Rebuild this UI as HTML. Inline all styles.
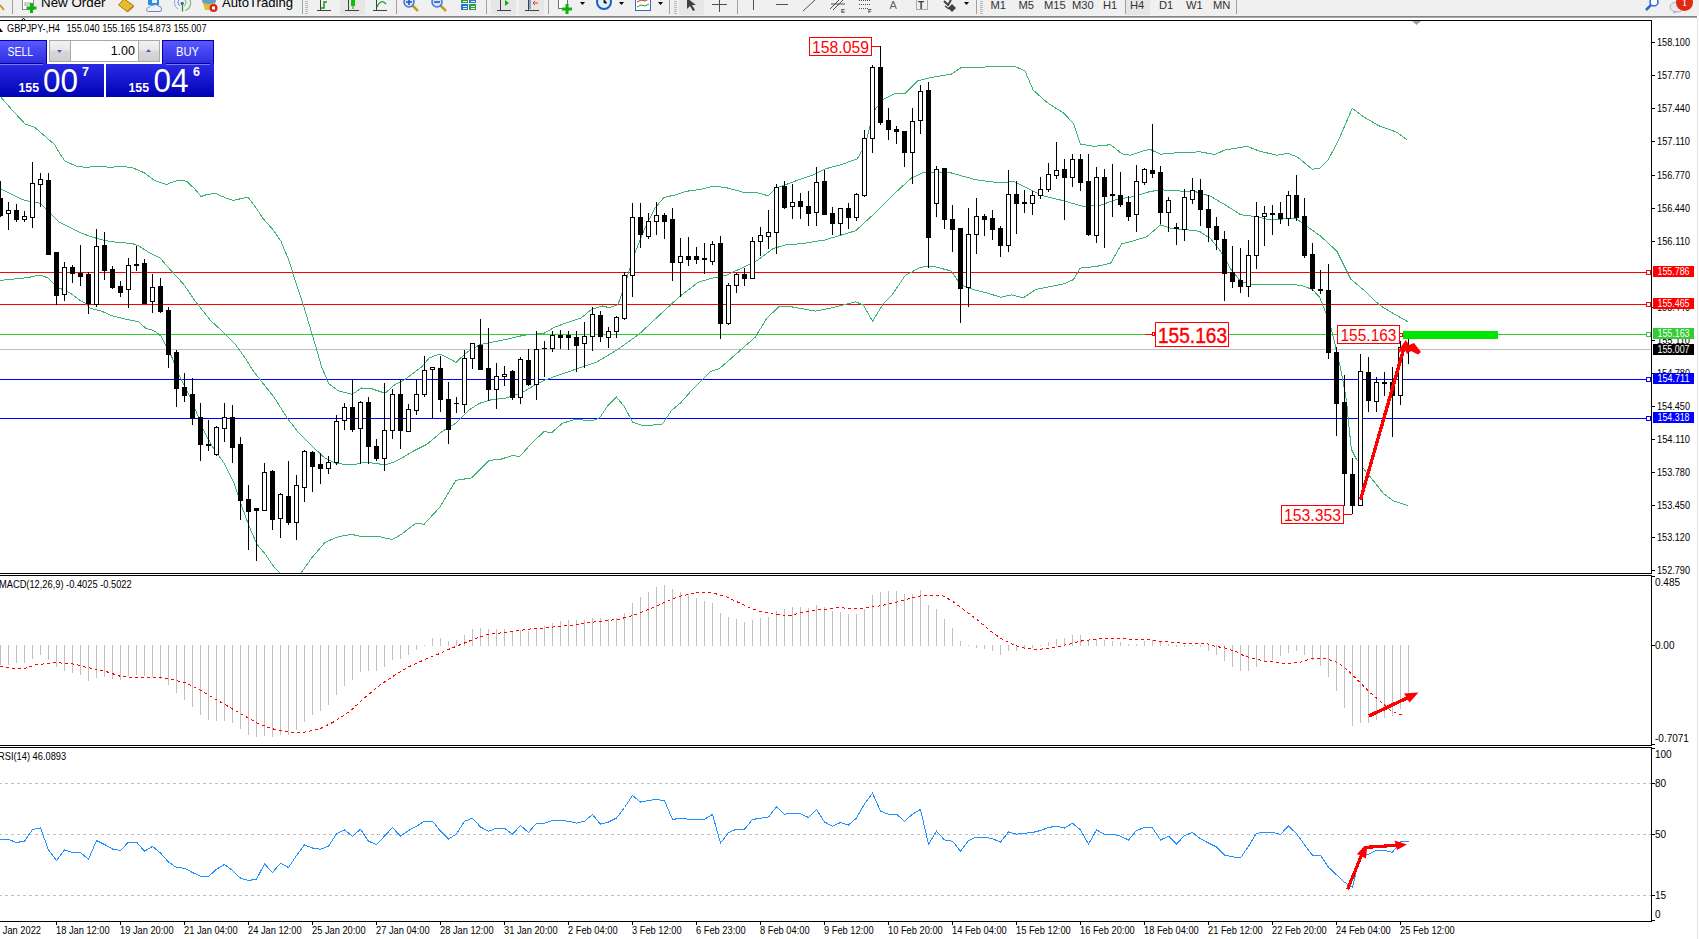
<!DOCTYPE html>
<html><head><meta charset="utf-8"><style>html,body{margin:0;padding:0;background:#fff;overflow:hidden}svg{display:block}</style></head>
<body><svg width="1699" height="939" viewBox="0 0 1699 939"><rect x="0" y="0" width="1699" height="939" fill="#ffffff"/><defs><clipPath id="cm"><rect x="0" y="21" width="1651" height="552"/></clipPath><clipPath id="cmacd"><rect x="0" y="576" width="1651" height="169"/></clipPath><clipPath id="crsi"><rect x="0" y="748" width="1651" height="173"/></clipPath></defs><g clip-path="url(#cm)"><g shape-rendering="crispEdges"><rect x="0" y="272" width="1646" height="1" fill="#ff0000"/><rect x="1646.5" y="270.5" width="4" height="4" fill="#fff" stroke="#ff0000" stroke-width="1"/><rect x="0" y="304" width="1646" height="1" fill="#ff0000"/><rect x="1646.5" y="302.5" width="4" height="4" fill="#fff" stroke="#ff0000" stroke-width="1"/><rect x="0" y="334" width="1646" height="1" fill="#32cd32"/><rect x="1646.5" y="332.5" width="4" height="4" fill="#fff" stroke="#32cd32" stroke-width="1"/><rect x="0" y="379" width="1646" height="1" fill="#0000ff"/><rect x="1646.5" y="377.5" width="4" height="4" fill="#fff" stroke="#0000ff" stroke-width="1"/><rect x="0" y="418" width="1646" height="1" fill="#0000ff"/><rect x="1646.5" y="416.5" width="4" height="4" fill="#fff" stroke="#0000ff" stroke-width="1"/><rect x="0" y="349" width="1651" height="1" fill="#c0c0c0"/></g><polyline points="0.0,96.0 2.7,99.3 13.3,111.3 25.3,124.1 34.6,127.3 43.9,135.3 54.6,144.6 59.9,153.9 65.2,161.4 77.2,166.4 85.2,167.2 98.5,166.7 111.9,167.2 122.5,166.4 133.2,168.0 143.8,172.6 154.5,180.5 166.4,184.5 177.1,180.5 186.4,181.1 194.4,188.5 201.1,196.5 207.0,194.5 215.2,193.4 223.4,196.9 232.8,200.4 241.0,198.7 248.0,197.1 256.2,208.1 263.2,218.7 272.6,229.2 280.8,240.9 289.0,260.8 296.0,283.1 303.1,304.2 310.1,327.6 317.1,351.0 321.8,367.4 328.8,383.8 338.2,390.8 352.3,394.3 361.6,388.0 371.0,388.5 385.1,393.2 394.4,385.0 403.8,380.3 410.7,375.2 421.3,367.2 429.3,357.9 439.9,353.9 447.9,357.9 455.9,362.4 466.6,352.6 479.9,344.6 493.2,341.9 506.5,339.3 517.2,336.6 527.8,334.7 543.8,333.4 554.5,327.3 565.1,323.3 581.1,318.0 591.7,309.2 602.4,306.0 608.9,307.6 617.9,304.6 623.9,288.2 632.8,258.4 644.7,228.6 655.2,207.7 664.1,197.3 674.5,195.2 686.5,191.3 701.4,189.2 713.3,186.2 725.2,187.4 743.1,192.2 755.0,192.2 768.5,195.8 775.9,188.3 787.8,183.9 799.8,179.4 812.4,175.2 824.7,169.0 840.2,165.0 857.2,158.8 864.9,145.8 874.2,110.3 883.4,99.4 895.8,93.3 905.1,93.3 917.4,80.9 929.8,77.8 951.4,74.1 960.7,67.9 985.4,67.0 1000.0,66.6 1015.2,66.6 1024.9,70.8 1033.2,90.1 1047.1,102.6 1063.7,113.1 1073.3,123.3 1080.3,144.1 1094.1,146.3 1110.7,144.7 1121.8,153.8 1130.1,155.2 1149.5,149.1 1160.5,154.3 1179.9,152.4 1200.0,151.9 1215.3,154.5 1224.3,150.1 1235.8,148.3 1247.3,146.3 1258.8,150.9 1276.7,155.2 1288.2,153.4 1297.2,157.0 1312.5,169.3 1320.2,168.0 1327.9,160.3 1338.1,141.2 1352.2,108.4 1363.7,116.9 1379.0,125.8 1396.9,132.2 1407.2,139.9" fill="none" stroke="#3cb371" stroke-width="1" shape-rendering="crispEdges" /><polyline points="0.0,188.5 10.7,193.9 21.3,199.2 29.3,201.3 40.0,203.2 49.3,212.5 58.6,221.8 69.2,227.2 79.9,232.5 90.5,236.5 101.2,239.7 111.9,241.8 122.5,242.6 133.2,243.9 138.5,245.8 149.1,252.5 159.8,257.8 170.4,269.8 183.8,284.4 194.3,300.0 200.7,308.0 210.5,320.5 223.4,332.3 235.1,344.0 246.8,360.4 252.5,370.0 260.4,380.1 273.8,396.8 287.2,418.1 298.4,432.6 311.8,446.0 325.2,458.3 336.4,463.5 352.1,465.0 365.5,462.1 378.9,463.9 385.6,465.0 394.5,461.7 400.0,459.1 413.3,451.1 426.6,444.5 442.6,431.1 455.9,423.2 469.2,409.8 479.9,403.2 490.5,400.0 506.5,397.9 522.5,392.5 533.2,385.9 543.8,380.5 554.5,376.6 565.1,373.1 581.1,367.2 597.1,361.9 617.9,349.3 638.8,334.4 659.6,315.0 680.5,295.7 698.4,282.2 713.3,277.8 725.2,275.7 740.1,268.8 758.0,259.9 772.9,248.8 784.9,245.0 802.7,243.5 824.7,240.0 855.6,230.8 874.2,213.8 892.7,195.2 911.2,178.2 923.6,172.1 948.3,172.1 976.1,179.8 1000.0,182.9 1013.8,181.5 1027.7,188.4 1041.5,195.3 1063.7,200.8 1083.0,206.4 1099.6,205.5 1116.2,199.5 1132.9,196.7 1149.5,191.7 1160.5,189.8 1182.7,191.2 1193.7,191.2 1210.2,196.1 1225.6,205.1 1240.9,214.8 1256.3,216.6 1266.5,219.2 1281.8,219.2 1289.5,217.9 1297.2,219.2 1307.4,226.8 1320.2,235.8 1336.8,251.1 1350.9,279.3 1363.7,290.0 1373.5,299.8 1380.8,305.9 1393.0,313.3 1407.8,321.8" fill="none" stroke="#3cb371" stroke-width="1" shape-rendering="crispEdges" /><polyline points="0.0,280.4 13.3,279.1 26.6,277.8 39.9,275.1 47.9,277.8 57.3,287.1 69.2,292.4 79.9,300.4 85.2,303.0 90.5,308.4 101.2,311.0 111.9,315.8 127.8,319.6 138.5,321.7 146.4,328.8 151.2,329.6 156.0,332.0 160.8,336.0 165.6,344.8 172.0,357.5 178.4,373.5 184.8,386.3 191.2,399.1 197.5,415.1 203.9,431.1 213.4,448.3 224.6,463.9 233.5,481.8 240.2,501.9 249.2,526.5 257.0,544.4 264.8,553.4 273.8,566.8 280.5,573.5 290.0,582.0 300.6,573.5 311.8,557.8 325.2,542.2 338.6,536.6 352.1,534.4 361.0,536.6 378.9,536.6 392.3,539.5 401.3,534.4 416.0,523.0 424.0,524.4 440.0,507.0 455.9,480.4 471.9,477.8 489.2,460.4 501.2,459.1 511.9,455.6 519.8,456.4 530.5,444.5 543.8,431.7 551.8,432.5 562.5,423.2 575.8,419.2 591.7,421.0 599.7,417.8 607.5,406.0 616.4,397.0 623.9,406.0 632.8,422.4 644.7,426.0 662.6,423.9 671.6,410.4 680.5,403.0 692.4,389.6 710.3,371.7 719.3,368.7 731.2,358.3 743.1,347.8 755.0,337.4 767.0,318.0 778.9,306.7 790.8,306.7 815.5,311.1 830.9,308.0 855.6,301.9 863.3,304.9 872.6,321.3 883.4,303.4 892.7,294.1 905.1,275.6 920.5,267.2 932.9,266.3 951.4,271.0 960.7,284.9 973.1,289.5 985.4,292.6 1000.9,297.2 1011.1,294.9 1023.5,297.7 1036.0,289.4 1049.8,286.6 1063.7,283.9 1073.3,279.7 1080.3,268.1 1096.9,266.4 1110.7,263.1 1121.8,243.7 1132.9,241.0 1146.7,236.8 1160.5,224.9 1171.6,228.5 1188.2,229.9 1199.3,231.3 1210.2,238.3 1220.5,251.1 1230.7,269.0 1240.9,281.8 1251.2,284.4 1271.6,284.4 1292.1,284.4 1302.3,285.7 1312.5,289.5 1319.6,297.3 1324.5,309.6 1329.4,321.8 1336.7,351.2 1341.6,373.3 1346.5,400.2 1349.0,427.2 1351.4,449.2 1356.3,459.0 1363.7,468.8 1373.5,481.0 1383.3,493.3 1393.1,500.6 1407.8,505.5" fill="none" stroke="#3cb371" stroke-width="1" shape-rendering="crispEdges" /><g shape-rendering="crispEdges"><rect x="0" y="181" width="1" height="36" fill="#000"/><rect x="-2" y="198" width="5" height="18" fill="#000"/><rect x="8" y="202" width="1" height="28" fill="#000"/><rect x="6" y="210" width="5" height="4" fill="#000"/><rect x="7" y="211" width="3" height="2" fill="#fff"/><rect x="16" y="204" width="1" height="18" fill="#000"/><rect x="14" y="210" width="5" height="10" fill="#000"/><rect x="24" y="211" width="1" height="11" fill="#000"/><rect x="22" y="216" width="5" height="4" fill="#000"/><rect x="23" y="217" width="3" height="2" fill="#fff"/><rect x="32" y="162" width="1" height="66" fill="#000"/><rect x="30" y="183" width="5" height="35" fill="#000"/><rect x="31" y="184" width="3" height="33" fill="#fff"/><rect x="40" y="173" width="1" height="34" fill="#000"/><rect x="38" y="179" width="5" height="6" fill="#000"/><rect x="39" y="180" width="3" height="4" fill="#fff"/><rect x="48" y="173" width="1" height="82" fill="#000"/><rect x="46" y="180" width="5" height="75" fill="#000"/><rect x="56" y="252" width="1" height="53" fill="#000"/><rect x="54" y="252" width="5" height="44" fill="#000"/><rect x="64" y="262" width="1" height="39" fill="#000"/><rect x="62" y="267" width="5" height="28" fill="#000"/><rect x="63" y="268" width="3" height="26" fill="#fff"/><rect x="72" y="265" width="1" height="18" fill="#000"/><rect x="70" y="267" width="5" height="7" fill="#000"/><rect x="80" y="245" width="1" height="41" fill="#000"/><rect x="78" y="273" width="5" height="4" fill="#000"/><rect x="88" y="272" width="1" height="42" fill="#000"/><rect x="86" y="274" width="5" height="30" fill="#000"/><rect x="96" y="229" width="1" height="78" fill="#000"/><rect x="94" y="246" width="5" height="59" fill="#000"/><rect x="95" y="247" width="3" height="57" fill="#fff"/><rect x="104" y="232" width="1" height="48" fill="#000"/><rect x="102" y="245" width="5" height="26" fill="#000"/><rect x="112" y="266" width="1" height="23" fill="#000"/><rect x="110" y="269" width="5" height="19" fill="#000"/><rect x="120" y="281" width="1" height="16" fill="#000"/><rect x="118" y="286" width="5" height="7" fill="#000"/><rect x="128" y="258" width="1" height="50" fill="#000"/><rect x="126" y="265" width="5" height="25" fill="#000"/><rect x="127" y="266" width="3" height="23" fill="#fff"/><rect x="136" y="246" width="1" height="25" fill="#000"/><rect x="134" y="264" width="5" height="2" fill="#000"/><rect x="144" y="259" width="1" height="45" fill="#000"/><rect x="142" y="263" width="5" height="41" fill="#000"/><rect x="152" y="274" width="1" height="39" fill="#000"/><rect x="150" y="287" width="5" height="15" fill="#000"/><rect x="151" y="288" width="3" height="13" fill="#fff"/><rect x="160" y="278" width="1" height="35" fill="#000"/><rect x="158" y="286" width="5" height="26" fill="#000"/><rect x="168" y="307" width="1" height="61" fill="#000"/><rect x="166" y="310" width="5" height="45" fill="#000"/><rect x="176" y="350" width="1" height="57" fill="#000"/><rect x="174" y="352" width="5" height="37" fill="#000"/><rect x="184" y="373" width="1" height="29" fill="#000"/><rect x="182" y="387" width="5" height="9" fill="#000"/><rect x="192" y="378" width="1" height="47" fill="#000"/><rect x="190" y="394" width="5" height="25" fill="#000"/><rect x="200" y="403" width="1" height="58" fill="#000"/><rect x="198" y="417" width="5" height="28" fill="#000"/><rect x="208" y="420" width="1" height="31" fill="#000"/><rect x="206" y="444" width="5" height="2" fill="#000"/><rect x="216" y="426" width="1" height="30" fill="#000"/><rect x="214" y="427" width="5" height="28" fill="#000"/><rect x="215" y="428" width="3" height="26" fill="#fff"/><rect x="224" y="403" width="1" height="39" fill="#000"/><rect x="222" y="417" width="5" height="12" fill="#000"/><rect x="223" y="418" width="3" height="10" fill="#fff"/><rect x="232" y="405" width="1" height="58" fill="#000"/><rect x="230" y="417" width="5" height="31" fill="#000"/><rect x="240" y="437" width="1" height="83" fill="#000"/><rect x="238" y="444" width="5" height="57" fill="#000"/><rect x="248" y="485" width="1" height="65" fill="#000"/><rect x="246" y="499" width="5" height="13" fill="#000"/><rect x="256" y="508" width="1" height="53" fill="#000"/><rect x="254" y="508" width="5" height="3" fill="#000"/><rect x="264" y="463" width="1" height="48" fill="#000"/><rect x="262" y="472" width="5" height="39" fill="#000"/><rect x="263" y="473" width="3" height="37" fill="#fff"/><rect x="272" y="470" width="1" height="60" fill="#000"/><rect x="270" y="471" width="5" height="49" fill="#000"/><rect x="280" y="493" width="1" height="45" fill="#000"/><rect x="278" y="494" width="5" height="25" fill="#000"/><rect x="279" y="495" width="3" height="23" fill="#fff"/><rect x="288" y="461" width="1" height="64" fill="#000"/><rect x="286" y="496" width="5" height="27" fill="#000"/><rect x="296" y="475" width="1" height="65" fill="#000"/><rect x="294" y="485" width="5" height="38" fill="#000"/><rect x="295" y="486" width="3" height="36" fill="#fff"/><rect x="304" y="450" width="1" height="52" fill="#000"/><rect x="302" y="451" width="5" height="37" fill="#000"/><rect x="303" y="452" width="3" height="35" fill="#fff"/><rect x="312" y="451" width="1" height="41" fill="#000"/><rect x="310" y="452" width="5" height="15" fill="#000"/><rect x="320" y="453" width="1" height="31" fill="#000"/><rect x="318" y="464" width="5" height="5" fill="#000"/><rect x="328" y="456" width="1" height="18" fill="#000"/><rect x="326" y="462" width="5" height="7" fill="#000"/><rect x="327" y="463" width="3" height="5" fill="#fff"/><rect x="336" y="415" width="1" height="50" fill="#000"/><rect x="334" y="421" width="5" height="42" fill="#000"/><rect x="335" y="422" width="3" height="40" fill="#fff"/><rect x="344" y="403" width="1" height="27" fill="#000"/><rect x="342" y="407" width="5" height="14" fill="#000"/><rect x="343" y="408" width="3" height="12" fill="#fff"/><rect x="352" y="380" width="1" height="52" fill="#000"/><rect x="350" y="407" width="5" height="23" fill="#000"/><rect x="360" y="401" width="1" height="63" fill="#000"/><rect x="358" y="402" width="5" height="27" fill="#000"/><rect x="359" y="403" width="3" height="25" fill="#fff"/><rect x="368" y="397" width="1" height="67" fill="#000"/><rect x="366" y="402" width="5" height="45" fill="#000"/><rect x="376" y="439" width="1" height="22" fill="#000"/><rect x="374" y="446" width="5" height="13" fill="#000"/><rect x="384" y="383" width="1" height="88" fill="#000"/><rect x="382" y="430" width="5" height="29" fill="#000"/><rect x="383" y="431" width="3" height="27" fill="#fff"/><rect x="392" y="389" width="1" height="50" fill="#000"/><rect x="390" y="394" width="5" height="37" fill="#000"/><rect x="391" y="395" width="3" height="35" fill="#fff"/><rect x="400" y="380" width="1" height="69" fill="#000"/><rect x="398" y="394" width="5" height="37" fill="#000"/><rect x="408" y="404" width="1" height="28" fill="#000"/><rect x="406" y="409" width="5" height="23" fill="#000"/><rect x="407" y="410" width="3" height="21" fill="#fff"/><rect x="416" y="380" width="1" height="35" fill="#000"/><rect x="414" y="394" width="5" height="17" fill="#000"/><rect x="415" y="395" width="3" height="15" fill="#fff"/><rect x="424" y="356" width="1" height="41" fill="#000"/><rect x="422" y="370" width="5" height="25" fill="#000"/><rect x="423" y="371" width="3" height="23" fill="#fff"/><rect x="432" y="367" width="1" height="51" fill="#000"/><rect x="430" y="367" width="5" height="3" fill="#000"/><rect x="431" y="368" width="3" height="1" fill="#fff"/><rect x="440" y="356" width="1" height="56" fill="#000"/><rect x="438" y="368" width="5" height="32" fill="#000"/><rect x="448" y="382" width="1" height="62" fill="#000"/><rect x="446" y="399" width="5" height="31" fill="#000"/><rect x="456" y="397" width="1" height="16" fill="#000"/><rect x="454" y="403" width="5" height="1" fill="#000"/><rect x="464" y="350" width="1" height="63" fill="#000"/><rect x="462" y="358" width="5" height="47" fill="#000"/><rect x="463" y="359" width="3" height="45" fill="#fff"/><rect x="472" y="343" width="1" height="26" fill="#000"/><rect x="470" y="343" width="5" height="16" fill="#000"/><rect x="471" y="344" width="3" height="14" fill="#fff"/><rect x="480" y="319" width="1" height="51" fill="#000"/><rect x="478" y="345" width="5" height="25" fill="#000"/><rect x="488" y="328" width="1" height="73" fill="#000"/><rect x="486" y="368" width="5" height="22" fill="#000"/><rect x="496" y="363" width="1" height="46" fill="#000"/><rect x="494" y="376" width="5" height="14" fill="#000"/><rect x="495" y="377" width="3" height="12" fill="#fff"/><rect x="504" y="366" width="1" height="20" fill="#000"/><rect x="502" y="374" width="5" height="3" fill="#000"/><rect x="503" y="375" width="3" height="1" fill="#fff"/><rect x="512" y="370" width="1" height="30" fill="#000"/><rect x="510" y="371" width="5" height="27" fill="#000"/><rect x="520" y="357" width="1" height="47" fill="#000"/><rect x="518" y="359" width="5" height="39" fill="#000"/><rect x="519" y="360" width="3" height="37" fill="#fff"/><rect x="528" y="349" width="1" height="37" fill="#000"/><rect x="526" y="360" width="5" height="25" fill="#000"/><rect x="536" y="331" width="1" height="69" fill="#000"/><rect x="534" y="349" width="5" height="36" fill="#000"/><rect x="535" y="350" width="3" height="34" fill="#fff"/><rect x="544" y="341" width="1" height="36" fill="#000"/><rect x="542" y="348" width="5" height="1" fill="#000"/><rect x="552" y="331" width="1" height="21" fill="#000"/><rect x="550" y="335" width="5" height="14" fill="#000"/><rect x="551" y="336" width="3" height="12" fill="#fff"/><rect x="560" y="330" width="1" height="19" fill="#000"/><rect x="558" y="335" width="5" height="3" fill="#000"/><rect x="568" y="331" width="1" height="19" fill="#000"/><rect x="566" y="335" width="5" height="3" fill="#000"/><rect x="576" y="331" width="1" height="41" fill="#000"/><rect x="574" y="337" width="5" height="9" fill="#000"/><rect x="584" y="322" width="1" height="46" fill="#000"/><rect x="582" y="336" width="5" height="8" fill="#000"/><rect x="583" y="337" width="3" height="6" fill="#fff"/><rect x="592" y="307" width="1" height="44" fill="#000"/><rect x="590" y="314" width="5" height="23" fill="#000"/><rect x="591" y="315" width="3" height="21" fill="#fff"/><rect x="600" y="311" width="1" height="31" fill="#000"/><rect x="598" y="315" width="5" height="22" fill="#000"/><rect x="608" y="327" width="1" height="21" fill="#000"/><rect x="606" y="331" width="5" height="7" fill="#000"/><rect x="607" y="332" width="3" height="5" fill="#fff"/><rect x="616" y="316" width="1" height="22" fill="#000"/><rect x="614" y="317" width="5" height="15" fill="#000"/><rect x="615" y="318" width="3" height="13" fill="#fff"/><rect x="624" y="272" width="1" height="48" fill="#000"/><rect x="622" y="275" width="5" height="44" fill="#000"/><rect x="623" y="276" width="3" height="42" fill="#fff"/><rect x="632" y="203" width="1" height="94" fill="#000"/><rect x="630" y="217" width="5" height="59" fill="#000"/><rect x="631" y="218" width="3" height="57" fill="#fff"/><rect x="640" y="203" width="1" height="45" fill="#000"/><rect x="638" y="217" width="5" height="18" fill="#000"/><rect x="648" y="213" width="1" height="26" fill="#000"/><rect x="646" y="221" width="5" height="16" fill="#000"/><rect x="647" y="222" width="3" height="14" fill="#fff"/><rect x="656" y="202" width="1" height="33" fill="#000"/><rect x="654" y="215" width="5" height="7" fill="#000"/><rect x="655" y="216" width="3" height="5" fill="#fff"/><rect x="664" y="213" width="1" height="26" fill="#000"/><rect x="662" y="215" width="5" height="7" fill="#000"/><rect x="672" y="208" width="1" height="73" fill="#000"/><rect x="670" y="219" width="5" height="44" fill="#000"/><rect x="680" y="238" width="1" height="59" fill="#000"/><rect x="678" y="256" width="5" height="7" fill="#000"/><rect x="679" y="257" width="3" height="5" fill="#fff"/><rect x="688" y="237" width="1" height="29" fill="#000"/><rect x="686" y="256" width="5" height="4" fill="#000"/><rect x="696" y="247" width="1" height="17" fill="#000"/><rect x="694" y="256" width="5" height="4" fill="#000"/><rect x="704" y="243" width="1" height="31" fill="#000"/><rect x="702" y="258" width="5" height="2" fill="#000"/><rect x="712" y="241" width="1" height="24" fill="#000"/><rect x="710" y="244" width="5" height="18" fill="#000"/><rect x="711" y="245" width="3" height="16" fill="#fff"/><rect x="720" y="236" width="1" height="103" fill="#000"/><rect x="718" y="243" width="5" height="81" fill="#000"/><rect x="728" y="283" width="1" height="42" fill="#000"/><rect x="726" y="285" width="5" height="39" fill="#000"/><rect x="727" y="286" width="3" height="37" fill="#fff"/><rect x="736" y="273" width="1" height="20" fill="#000"/><rect x="734" y="274" width="5" height="12" fill="#000"/><rect x="735" y="275" width="3" height="10" fill="#fff"/><rect x="744" y="268" width="1" height="18" fill="#000"/><rect x="742" y="274" width="5" height="5" fill="#000"/><rect x="752" y="237" width="1" height="42" fill="#000"/><rect x="750" y="241" width="5" height="38" fill="#000"/><rect x="751" y="242" width="3" height="36" fill="#fff"/><rect x="760" y="227" width="1" height="29" fill="#000"/><rect x="758" y="235" width="5" height="7" fill="#000"/><rect x="759" y="236" width="3" height="5" fill="#fff"/><rect x="768" y="210" width="1" height="39" fill="#000"/><rect x="766" y="232" width="5" height="5" fill="#000"/><rect x="767" y="233" width="3" height="3" fill="#fff"/><rect x="776" y="184" width="1" height="70" fill="#000"/><rect x="774" y="187" width="5" height="46" fill="#000"/><rect x="775" y="188" width="3" height="44" fill="#fff"/><rect x="784" y="181" width="1" height="28" fill="#000"/><rect x="782" y="186" width="5" height="22" fill="#000"/><rect x="792" y="184" width="1" height="35" fill="#000"/><rect x="790" y="202" width="5" height="5" fill="#000"/><rect x="791" y="203" width="3" height="3" fill="#fff"/><rect x="800" y="193" width="1" height="26" fill="#000"/><rect x="798" y="201" width="5" height="6" fill="#000"/><rect x="808" y="191" width="1" height="35" fill="#000"/><rect x="806" y="206" width="5" height="8" fill="#000"/><rect x="816" y="167" width="1" height="59" fill="#000"/><rect x="814" y="182" width="5" height="31" fill="#000"/><rect x="815" y="183" width="3" height="29" fill="#fff"/><rect x="824" y="170" width="1" height="45" fill="#000"/><rect x="822" y="181" width="5" height="34" fill="#000"/><rect x="832" y="207" width="1" height="28" fill="#000"/><rect x="830" y="213" width="5" height="11" fill="#000"/><rect x="840" y="208" width="1" height="27" fill="#000"/><rect x="838" y="208" width="5" height="16" fill="#000"/><rect x="839" y="209" width="3" height="14" fill="#fff"/><rect x="848" y="203" width="1" height="26" fill="#000"/><rect x="846" y="208" width="5" height="10" fill="#000"/><rect x="856" y="193" width="1" height="28" fill="#000"/><rect x="854" y="194" width="5" height="24" fill="#000"/><rect x="855" y="195" width="3" height="22" fill="#fff"/><rect x="864" y="130" width="1" height="67" fill="#000"/><rect x="862" y="138" width="5" height="58" fill="#000"/><rect x="863" y="139" width="3" height="56" fill="#fff"/><rect x="872" y="65" width="1" height="88" fill="#000"/><rect x="870" y="67" width="5" height="72" fill="#000"/><rect x="871" y="68" width="3" height="70" fill="#fff"/><rect x="880" y="46" width="1" height="79" fill="#000"/><rect x="878" y="67" width="5" height="56" fill="#000"/><rect x="888" y="108" width="1" height="32" fill="#000"/><rect x="886" y="120" width="5" height="10" fill="#000"/><rect x="896" y="126" width="1" height="18" fill="#000"/><rect x="894" y="129" width="5" height="3" fill="#000"/><rect x="904" y="131" width="1" height="36" fill="#000"/><rect x="902" y="131" width="5" height="22" fill="#000"/><rect x="912" y="108" width="1" height="76" fill="#000"/><rect x="910" y="121" width="5" height="32" fill="#000"/><rect x="911" y="122" width="3" height="30" fill="#fff"/><rect x="920" y="85" width="1" height="49" fill="#000"/><rect x="918" y="91" width="5" height="30" fill="#000"/><rect x="919" y="92" width="3" height="28" fill="#fff"/><rect x="928" y="82" width="1" height="186" fill="#000"/><rect x="926" y="90" width="5" height="148" fill="#000"/><rect x="936" y="166" width="1" height="51" fill="#000"/><rect x="934" y="169" width="5" height="35" fill="#000"/><rect x="935" y="170" width="3" height="33" fill="#fff"/><rect x="944" y="168" width="1" height="61" fill="#000"/><rect x="942" y="168" width="5" height="52" fill="#000"/><rect x="952" y="205" width="1" height="47" fill="#000"/><rect x="950" y="219" width="5" height="11" fill="#000"/><rect x="960" y="228" width="1" height="95" fill="#000"/><rect x="958" y="228" width="5" height="61" fill="#000"/><rect x="968" y="208" width="1" height="99" fill="#000"/><rect x="966" y="234" width="5" height="54" fill="#000"/><rect x="967" y="235" width="3" height="52" fill="#fff"/><rect x="976" y="198" width="1" height="56" fill="#000"/><rect x="974" y="216" width="5" height="19" fill="#000"/><rect x="975" y="217" width="3" height="17" fill="#fff"/><rect x="984" y="214" width="1" height="22" fill="#000"/><rect x="982" y="216" width="5" height="4" fill="#000"/><rect x="992" y="210" width="1" height="30" fill="#000"/><rect x="990" y="218" width="5" height="12" fill="#000"/><rect x="1000" y="226" width="1" height="31" fill="#000"/><rect x="998" y="228" width="5" height="18" fill="#000"/><rect x="1008" y="170" width="1" height="82" fill="#000"/><rect x="1006" y="194" width="5" height="52" fill="#000"/><rect x="1007" y="195" width="3" height="50" fill="#fff"/><rect x="1016" y="181" width="1" height="53" fill="#000"/><rect x="1014" y="194" width="5" height="10" fill="#000"/><rect x="1024" y="190" width="1" height="23" fill="#000"/><rect x="1022" y="202" width="5" height="2" fill="#000"/><rect x="1032" y="191" width="1" height="24" fill="#000"/><rect x="1030" y="195" width="5" height="9" fill="#000"/><rect x="1031" y="196" width="3" height="7" fill="#fff"/><rect x="1040" y="177" width="1" height="22" fill="#000"/><rect x="1038" y="189" width="5" height="7" fill="#000"/><rect x="1039" y="190" width="3" height="5" fill="#fff"/><rect x="1048" y="163" width="1" height="29" fill="#000"/><rect x="1046" y="174" width="5" height="16" fill="#000"/><rect x="1047" y="175" width="3" height="14" fill="#fff"/><rect x="1056" y="142" width="1" height="37" fill="#000"/><rect x="1054" y="170" width="5" height="6" fill="#000"/><rect x="1055" y="171" width="3" height="4" fill="#fff"/><rect x="1064" y="159" width="1" height="61" fill="#000"/><rect x="1062" y="169" width="5" height="9" fill="#000"/><rect x="1072" y="154" width="1" height="33" fill="#000"/><rect x="1070" y="159" width="5" height="19" fill="#000"/><rect x="1071" y="160" width="3" height="17" fill="#fff"/><rect x="1080" y="154" width="1" height="37" fill="#000"/><rect x="1078" y="159" width="5" height="24" fill="#000"/><rect x="1088" y="154" width="1" height="82" fill="#000"/><rect x="1086" y="181" width="5" height="54" fill="#000"/><rect x="1096" y="167" width="1" height="76" fill="#000"/><rect x="1094" y="177" width="5" height="59" fill="#000"/><rect x="1095" y="178" width="3" height="57" fill="#fff"/><rect x="1104" y="169" width="1" height="79" fill="#000"/><rect x="1102" y="177" width="5" height="20" fill="#000"/><rect x="1112" y="164" width="1" height="53" fill="#000"/><rect x="1110" y="194" width="5" height="2" fill="#000"/><rect x="1120" y="172" width="1" height="35" fill="#000"/><rect x="1118" y="195" width="5" height="10" fill="#000"/><rect x="1128" y="196" width="1" height="25" fill="#000"/><rect x="1126" y="202" width="5" height="15" fill="#000"/><rect x="1136" y="165" width="1" height="67" fill="#000"/><rect x="1134" y="181" width="5" height="34" fill="#000"/><rect x="1135" y="182" width="3" height="32" fill="#fff"/><rect x="1144" y="168" width="1" height="17" fill="#000"/><rect x="1142" y="169" width="5" height="14" fill="#000"/><rect x="1143" y="170" width="3" height="12" fill="#fff"/><rect x="1152" y="124" width="1" height="54" fill="#000"/><rect x="1150" y="170" width="5" height="4" fill="#000"/><rect x="1160" y="166" width="1" height="58" fill="#000"/><rect x="1158" y="172" width="5" height="41" fill="#000"/><rect x="1168" y="197" width="1" height="35" fill="#000"/><rect x="1166" y="200" width="5" height="13" fill="#000"/><rect x="1167" y="201" width="3" height="11" fill="#fff"/><rect x="1176" y="223" width="1" height="22" fill="#000"/><rect x="1174" y="227" width="5" height="2" fill="#000"/><rect x="1184" y="189" width="1" height="52" fill="#000"/><rect x="1182" y="197" width="5" height="33" fill="#000"/><rect x="1183" y="198" width="3" height="31" fill="#fff"/><rect x="1192" y="178" width="1" height="26" fill="#000"/><rect x="1190" y="190" width="5" height="10" fill="#000"/><rect x="1191" y="191" width="3" height="8" fill="#fff"/><rect x="1200" y="179" width="1" height="47" fill="#000"/><rect x="1198" y="190" width="5" height="20" fill="#000"/><rect x="1208" y="195" width="1" height="47" fill="#000"/><rect x="1206" y="209" width="5" height="19" fill="#000"/><rect x="1216" y="217" width="1" height="33" fill="#000"/><rect x="1214" y="226" width="5" height="14" fill="#000"/><rect x="1224" y="231" width="1" height="70" fill="#000"/><rect x="1222" y="239" width="5" height="35" fill="#000"/><rect x="1232" y="246" width="1" height="42" fill="#000"/><rect x="1230" y="272" width="5" height="10" fill="#000"/><rect x="1240" y="248" width="1" height="45" fill="#000"/><rect x="1238" y="280" width="5" height="7" fill="#000"/><rect x="1248" y="240" width="1" height="57" fill="#000"/><rect x="1246" y="255" width="5" height="32" fill="#000"/><rect x="1247" y="256" width="3" height="30" fill="#fff"/><rect x="1256" y="202" width="1" height="67" fill="#000"/><rect x="1254" y="216" width="5" height="40" fill="#000"/><rect x="1255" y="217" width="3" height="38" fill="#fff"/><rect x="1264" y="206" width="1" height="40" fill="#000"/><rect x="1262" y="213" width="5" height="4" fill="#000"/><rect x="1263" y="214" width="3" height="2" fill="#fff"/><rect x="1272" y="205" width="1" height="30" fill="#000"/><rect x="1270" y="213" width="5" height="2" fill="#000"/><rect x="1280" y="202" width="1" height="22" fill="#000"/><rect x="1278" y="213" width="5" height="6" fill="#000"/><rect x="1288" y="191" width="1" height="35" fill="#000"/><rect x="1286" y="195" width="5" height="24" fill="#000"/><rect x="1287" y="196" width="3" height="22" fill="#fff"/><rect x="1296" y="175" width="1" height="46" fill="#000"/><rect x="1294" y="195" width="5" height="23" fill="#000"/><rect x="1304" y="198" width="1" height="60" fill="#000"/><rect x="1302" y="216" width="5" height="40" fill="#000"/><rect x="1312" y="243" width="1" height="48" fill="#000"/><rect x="1310" y="254" width="5" height="35" fill="#000"/><rect x="1320" y="270" width="1" height="24" fill="#000"/><rect x="1318" y="289" width="5" height="2" fill="#000"/><rect x="1328" y="264" width="1" height="95" fill="#000"/><rect x="1326" y="290" width="5" height="63" fill="#000"/><rect x="1336" y="347" width="1" height="89" fill="#000"/><rect x="1334" y="352" width="5" height="52" fill="#000"/><rect x="1344" y="375" width="1" height="131" fill="#000"/><rect x="1342" y="402" width="5" height="72" fill="#000"/><rect x="1352" y="458" width="1" height="56" fill="#000"/><rect x="1350" y="474" width="5" height="32" fill="#000"/><rect x="1360" y="354" width="1" height="152" fill="#000"/><rect x="1358" y="371" width="5" height="135" fill="#000"/><rect x="1359" y="372" width="3" height="133" fill="#fff"/><rect x="1368" y="357" width="1" height="55" fill="#000"/><rect x="1366" y="372" width="5" height="29" fill="#000"/><rect x="1376" y="377" width="1" height="35" fill="#000"/><rect x="1374" y="382" width="5" height="20" fill="#000"/><rect x="1375" y="383" width="3" height="18" fill="#fff"/><rect x="1384" y="372" width="1" height="24" fill="#000"/><rect x="1382" y="382" width="5" height="2" fill="#000"/><rect x="1392" y="367" width="1" height="70" fill="#000"/><rect x="1390" y="382" width="5" height="14" fill="#000"/><rect x="1400" y="341" width="1" height="64" fill="#000"/><rect x="1398" y="347" width="5" height="49" fill="#000"/><rect x="1399" y="348" width="3" height="47" fill="#fff"/><rect x="1408" y="339" width="1" height="25" fill="#000"/><rect x="1406" y="347" width="5" height="2" fill="#000"/></g></g><rect x="1403" y="331" width="95" height="8" fill="#00e600" shape-rendering="crispEdges"/><rect x="809.5" y="37.5" width="62" height="18" fill="#fff" stroke="#ff0000" stroke-width="1" shape-rendering="crispEdges"/><text x="812" y="53" font-size="16.5" fill="#ff0000" font-family="Liberation Sans, sans-serif" textLength="57" lengthAdjust="spacingAndGlyphs">158.059</text><path d="M871 46.5H880" stroke="#ff0000" stroke-width="1" shape-rendering="crispEdges"/><rect x="1155.5" y="322.5" width="73" height="24" fill="#fff" stroke="#ff0000" stroke-width="1" shape-rendering="crispEdges"/><text x="1158" y="343" font-size="22" fill="#ff0000" stroke="#ff0000" stroke-width="0.45" font-family="Liberation Sans, sans-serif" textLength="69" lengthAdjust="spacingAndGlyphs">155.163</text><rect x="1152.5" y="332.5" width="2" height="3" fill="#fff" stroke="#ff0000" shape-rendering="crispEdges"/><path d="M1145 334.5H1152" stroke="#ff0000" shape-rendering="crispEdges"/><rect x="1337.5" y="325.5" width="62" height="18" fill="#fff" stroke="#ff0000" stroke-width="1" shape-rendering="crispEdges"/><text x="1340.5" y="341" font-size="16.5" fill="#ff0000" font-family="Liberation Sans, sans-serif" textLength="56" lengthAdjust="spacingAndGlyphs">155.163</text><rect x="1399.5" y="333.5" width="3" height="3" fill="#fff" stroke="#ff0000" shape-rendering="crispEdges"/><rect x="1281.5" y="505.5" width="62" height="18" fill="#fff" stroke="#ff0000" stroke-width="1" shape-rendering="crispEdges"/><text x="1284" y="521" font-size="16.5" fill="#ff0000" font-family="Liberation Sans, sans-serif" textLength="57" lengthAdjust="spacingAndGlyphs">153.353</text><path d="M1343 514.5H1352" stroke="#ff0000" shape-rendering="crispEdges"/><path d="M1361 498 L1404.5 346" stroke="#ff0000" stroke-width="3.4" fill="none" stroke-linecap="round" shape-rendering="crispEdges"/><path d="M1398 351 L1405.8 340 L1409 345 L1414 343 L1421 352 L1418 354.5 L1411 351 L1407 354 L1404 348 L1399 353 Z" fill="#ff0000"/><g shape-rendering="crispEdges"><rect x="1652" y="42" width="3" height="1" fill="#000"/><rect x="1652" y="75" width="3" height="1" fill="#000"/><rect x="1652" y="108" width="3" height="1" fill="#000"/><rect x="1652" y="141" width="3" height="1" fill="#000"/><rect x="1652" y="175" width="3" height="1" fill="#000"/><rect x="1652" y="208" width="3" height="1" fill="#000"/><rect x="1652" y="241" width="3" height="1" fill="#000"/><rect x="1652" y="307" width="3" height="1" fill="#000"/><rect x="1652" y="340" width="3" height="1" fill="#000"/><rect x="1652" y="373" width="3" height="1" fill="#000"/><rect x="1652" y="406" width="3" height="1" fill="#000"/><rect x="1652" y="439" width="3" height="1" fill="#000"/><rect x="1652" y="472" width="3" height="1" fill="#000"/><rect x="1652" y="505" width="3" height="1" fill="#000"/><rect x="1652" y="537" width="3" height="1" fill="#000"/><rect x="1652" y="570" width="3" height="1" fill="#000"/></g><text x="1657" y="46" font-size="10" fill="#000" font-family="Liberation Sans, sans-serif" textLength="33" lengthAdjust="spacingAndGlyphs">158.100</text><text x="1657" y="79" font-size="10" fill="#000" font-family="Liberation Sans, sans-serif" textLength="33" lengthAdjust="spacingAndGlyphs">157.770</text><text x="1657" y="112" font-size="10" fill="#000" font-family="Liberation Sans, sans-serif" textLength="33" lengthAdjust="spacingAndGlyphs">157.440</text><text x="1657" y="145" font-size="10" fill="#000" font-family="Liberation Sans, sans-serif" textLength="33" lengthAdjust="spacingAndGlyphs">157.110</text><text x="1657" y="179" font-size="10" fill="#000" font-family="Liberation Sans, sans-serif" textLength="33" lengthAdjust="spacingAndGlyphs">156.770</text><text x="1657" y="212" font-size="10" fill="#000" font-family="Liberation Sans, sans-serif" textLength="33" lengthAdjust="spacingAndGlyphs">156.440</text><text x="1657" y="245" font-size="10" fill="#000" font-family="Liberation Sans, sans-serif" textLength="33" lengthAdjust="spacingAndGlyphs">156.110</text><text x="1657" y="311" font-size="10" fill="#000" font-family="Liberation Sans, sans-serif" textLength="33" lengthAdjust="spacingAndGlyphs">155.440</text><text x="1657" y="344" font-size="10" fill="#000" font-family="Liberation Sans, sans-serif" textLength="33" lengthAdjust="spacingAndGlyphs">155.110</text><text x="1657" y="377" font-size="10" fill="#000" font-family="Liberation Sans, sans-serif" textLength="33" lengthAdjust="spacingAndGlyphs">154.780</text><text x="1657" y="410" font-size="10" fill="#000" font-family="Liberation Sans, sans-serif" textLength="33" lengthAdjust="spacingAndGlyphs">154.450</text><text x="1657" y="443" font-size="10" fill="#000" font-family="Liberation Sans, sans-serif" textLength="33" lengthAdjust="spacingAndGlyphs">154.110</text><text x="1657" y="476" font-size="10" fill="#000" font-family="Liberation Sans, sans-serif" textLength="33" lengthAdjust="spacingAndGlyphs">153.780</text><text x="1657" y="509" font-size="10" fill="#000" font-family="Liberation Sans, sans-serif" textLength="33" lengthAdjust="spacingAndGlyphs">153.450</text><text x="1657" y="541" font-size="10" fill="#000" font-family="Liberation Sans, sans-serif" textLength="33" lengthAdjust="spacingAndGlyphs">153.120</text><text x="1657" y="574" font-size="10" fill="#000" font-family="Liberation Sans, sans-serif" textLength="33" lengthAdjust="spacingAndGlyphs">152.790</text><rect x="1653" y="266" width="41" height="11" fill="#ff0000" shape-rendering="crispEdges"/><text x="1657.5" y="275" font-size="10" fill="#fff" font-family="Liberation Sans, sans-serif" textLength="32" lengthAdjust="spacingAndGlyphs">155.786</text><rect x="1653" y="298" width="41" height="11" fill="#ff0000" shape-rendering="crispEdges"/><text x="1657.5" y="307" font-size="10" fill="#fff" font-family="Liberation Sans, sans-serif" textLength="32" lengthAdjust="spacingAndGlyphs">155.465</text><rect x="1653" y="328" width="41" height="11" fill="#32cd32" shape-rendering="crispEdges"/><text x="1657.5" y="337" font-size="10" fill="#fff" font-family="Liberation Sans, sans-serif" textLength="32" lengthAdjust="spacingAndGlyphs">155.163</text><rect x="1653" y="344" width="41" height="11" fill="#000000" shape-rendering="crispEdges"/><text x="1657.5" y="353" font-size="10" fill="#fff" font-family="Liberation Sans, sans-serif" textLength="32" lengthAdjust="spacingAndGlyphs">155.007</text><rect x="1653" y="373" width="41" height="11" fill="#0000ff" shape-rendering="crispEdges"/><text x="1657.5" y="382" font-size="10" fill="#fff" font-family="Liberation Sans, sans-serif" textLength="32" lengthAdjust="spacingAndGlyphs">154.711</text><rect x="1653" y="412" width="41" height="11" fill="#0000ff" shape-rendering="crispEdges"/><text x="1657.5" y="421" font-size="10" fill="#fff" font-family="Liberation Sans, sans-serif" textLength="32" lengthAdjust="spacingAndGlyphs">154.318</text><g clip-path="url(#cmacd)"><g shape-rendering="crispEdges"><rect x="0" y="645" width="1" height="20" fill="#c0c0c0"/><rect x="8" y="645" width="1" height="20" fill="#c0c0c0"/><rect x="16" y="645" width="1" height="18" fill="#c0c0c0"/><rect x="24" y="645" width="1" height="18" fill="#c0c0c0"/><rect x="32" y="645" width="1" height="14" fill="#c0c0c0"/><rect x="40" y="645" width="1" height="10" fill="#c0c0c0"/><rect x="48" y="645" width="1" height="15" fill="#c0c0c0"/><rect x="56" y="645" width="1" height="22" fill="#c0c0c0"/><rect x="64" y="645" width="1" height="26" fill="#c0c0c0"/><rect x="72" y="645" width="1" height="28" fill="#c0c0c0"/><rect x="80" y="645" width="1" height="30" fill="#c0c0c0"/><rect x="88" y="645" width="1" height="36" fill="#c0c0c0"/><rect x="96" y="645" width="1" height="33" fill="#c0c0c0"/><rect x="104" y="645" width="1" height="32" fill="#c0c0c0"/><rect x="112" y="645" width="1" height="34" fill="#c0c0c0"/><rect x="120" y="645" width="1" height="35" fill="#c0c0c0"/><rect x="128" y="645" width="1" height="31" fill="#c0c0c0"/><rect x="136" y="645" width="1" height="30" fill="#c0c0c0"/><rect x="144" y="645" width="1" height="31" fill="#c0c0c0"/><rect x="152" y="645" width="1" height="32" fill="#c0c0c0"/><rect x="160" y="645" width="1" height="34" fill="#c0c0c0"/><rect x="168" y="645" width="1" height="40" fill="#c0c0c0"/><rect x="176" y="645" width="1" height="48" fill="#c0c0c0"/><rect x="184" y="645" width="1" height="55" fill="#c0c0c0"/><rect x="192" y="645" width="1" height="62" fill="#c0c0c0"/><rect x="200" y="645" width="1" height="70" fill="#c0c0c0"/><rect x="208" y="645" width="1" height="75" fill="#c0c0c0"/><rect x="216" y="645" width="1" height="76" fill="#c0c0c0"/><rect x="224" y="645" width="1" height="76" fill="#c0c0c0"/><rect x="232" y="645" width="1" height="78" fill="#c0c0c0"/><rect x="240" y="645" width="1" height="84" fill="#c0c0c0"/><rect x="248" y="645" width="1" height="90" fill="#c0c0c0"/><rect x="256" y="645" width="1" height="92" fill="#c0c0c0"/><rect x="264" y="645" width="1" height="91" fill="#c0c0c0"/><rect x="272" y="645" width="1" height="92" fill="#c0c0c0"/><rect x="280" y="645" width="1" height="90" fill="#c0c0c0"/><rect x="288" y="645" width="1" height="90" fill="#c0c0c0"/><rect x="296" y="645" width="1" height="85" fill="#c0c0c0"/><rect x="304" y="645" width="1" height="77" fill="#c0c0c0"/><rect x="312" y="645" width="1" height="70" fill="#c0c0c0"/><rect x="320" y="645" width="1" height="66" fill="#c0c0c0"/><rect x="328" y="645" width="1" height="60" fill="#c0c0c0"/><rect x="336" y="645" width="1" height="50" fill="#c0c0c0"/><rect x="344" y="645" width="1" height="41" fill="#c0c0c0"/><rect x="352" y="645" width="1" height="35" fill="#c0c0c0"/><rect x="360" y="645" width="1" height="27" fill="#c0c0c0"/><rect x="368" y="645" width="1" height="26" fill="#c0c0c0"/><rect x="376" y="645" width="1" height="26" fill="#c0c0c0"/><rect x="384" y="645" width="1" height="22" fill="#c0c0c0"/><rect x="392" y="645" width="1" height="15" fill="#c0c0c0"/><rect x="400" y="645" width="1" height="14" fill="#c0c0c0"/><rect x="408" y="645" width="1" height="10" fill="#c0c0c0"/><rect x="416" y="645" width="1" height="5" fill="#c0c0c0"/><rect x="424" y="645" width="1" height="1" fill="#c0c0c0"/><rect x="432" y="638" width="1" height="8" fill="#c0c0c0"/><rect x="440" y="638" width="1" height="8" fill="#c0c0c0"/><rect x="448" y="641" width="1" height="5" fill="#c0c0c0"/><rect x="456" y="640" width="1" height="6" fill="#c0c0c0"/><rect x="464" y="635" width="1" height="11" fill="#c0c0c0"/><rect x="472" y="629" width="1" height="17" fill="#c0c0c0"/><rect x="480" y="628" width="1" height="18" fill="#c0c0c0"/><rect x="488" y="629" width="1" height="17" fill="#c0c0c0"/><rect x="496" y="629" width="1" height="17" fill="#c0c0c0"/><rect x="504" y="629" width="1" height="17" fill="#c0c0c0"/><rect x="512" y="631" width="1" height="15" fill="#c0c0c0"/><rect x="520" y="630" width="1" height="16" fill="#c0c0c0"/><rect x="528" y="631" width="1" height="15" fill="#c0c0c0"/><rect x="536" y="629" width="1" height="17" fill="#c0c0c0"/><rect x="544" y="626" width="1" height="20" fill="#c0c0c0"/><rect x="552" y="623" width="1" height="23" fill="#c0c0c0"/><rect x="560" y="621" width="1" height="25" fill="#c0c0c0"/><rect x="568" y="620" width="1" height="26" fill="#c0c0c0"/><rect x="576" y="620" width="1" height="26" fill="#c0c0c0"/><rect x="584" y="620" width="1" height="26" fill="#c0c0c0"/><rect x="592" y="618" width="1" height="28" fill="#c0c0c0"/><rect x="600" y="618" width="1" height="28" fill="#c0c0c0"/><rect x="608" y="619" width="1" height="27" fill="#c0c0c0"/><rect x="616" y="618" width="1" height="28" fill="#c0c0c0"/><rect x="624" y="613" width="1" height="33" fill="#c0c0c0"/><rect x="632" y="603" width="1" height="43" fill="#c0c0c0"/><rect x="640" y="597" width="1" height="49" fill="#c0c0c0"/><rect x="648" y="592" width="1" height="54" fill="#c0c0c0"/><rect x="656" y="587" width="1" height="59" fill="#c0c0c0"/><rect x="664" y="585" width="1" height="61" fill="#c0c0c0"/><rect x="672" y="589" width="1" height="57" fill="#c0c0c0"/><rect x="680" y="592" width="1" height="54" fill="#c0c0c0"/><rect x="688" y="594" width="1" height="52" fill="#c0c0c0"/><rect x="696" y="598" width="1" height="48" fill="#c0c0c0"/><rect x="704" y="601" width="1" height="45" fill="#c0c0c0"/><rect x="712" y="603" width="1" height="43" fill="#c0c0c0"/><rect x="720" y="613" width="1" height="33" fill="#c0c0c0"/><rect x="728" y="617" width="1" height="29" fill="#c0c0c0"/><rect x="736" y="619" width="1" height="27" fill="#c0c0c0"/><rect x="744" y="622" width="1" height="24" fill="#c0c0c0"/><rect x="752" y="620" width="1" height="26" fill="#c0c0c0"/><rect x="760" y="618" width="1" height="28" fill="#c0c0c0"/><rect x="768" y="617" width="1" height="29" fill="#c0c0c0"/><rect x="776" y="611" width="1" height="35" fill="#c0c0c0"/><rect x="784" y="609" width="1" height="37" fill="#c0c0c0"/><rect x="792" y="607" width="1" height="39" fill="#c0c0c0"/><rect x="800" y="607" width="1" height="39" fill="#c0c0c0"/><rect x="808" y="608" width="1" height="38" fill="#c0c0c0"/><rect x="816" y="605" width="1" height="41" fill="#c0c0c0"/><rect x="824" y="607" width="1" height="39" fill="#c0c0c0"/><rect x="832" y="611" width="1" height="35" fill="#c0c0c0"/><rect x="840" y="612" width="1" height="34" fill="#c0c0c0"/><rect x="848" y="614" width="1" height="32" fill="#c0c0c0"/><rect x="856" y="614" width="1" height="32" fill="#c0c0c0"/><rect x="864" y="609" width="1" height="37" fill="#c0c0c0"/><rect x="872" y="595" width="1" height="51" fill="#c0c0c0"/><rect x="880" y="592" width="1" height="54" fill="#c0c0c0"/><rect x="888" y="591" width="1" height="55" fill="#c0c0c0"/><rect x="896" y="591" width="1" height="55" fill="#c0c0c0"/><rect x="904" y="594" width="1" height="52" fill="#c0c0c0"/><rect x="912" y="594" width="1" height="52" fill="#c0c0c0"/><rect x="920" y="590" width="1" height="56" fill="#c0c0c0"/><rect x="928" y="605" width="1" height="41" fill="#c0c0c0"/><rect x="936" y="609" width="1" height="37" fill="#c0c0c0"/><rect x="944" y="619" width="1" height="27" fill="#c0c0c0"/><rect x="952" y="628" width="1" height="18" fill="#c0c0c0"/><rect x="960" y="641" width="1" height="5" fill="#c0c0c0"/><rect x="968" y="645" width="1" height="1" fill="#c0c0c0"/><rect x="976" y="645" width="1" height="3" fill="#c0c0c0"/><rect x="984" y="645" width="1" height="4" fill="#c0c0c0"/><rect x="992" y="645" width="1" height="6" fill="#c0c0c0"/><rect x="1000" y="645" width="1" height="10" fill="#c0c0c0"/><rect x="1008" y="645" width="1" height="6" fill="#c0c0c0"/><rect x="1016" y="645" width="1" height="6" fill="#c0c0c0"/><rect x="1024" y="645" width="1" height="4" fill="#c0c0c0"/><rect x="1032" y="645" width="1" height="3" fill="#c0c0c0"/><rect x="1040" y="645" width="1" height="1" fill="#c0c0c0"/><rect x="1048" y="642" width="1" height="4" fill="#c0c0c0"/><rect x="1056" y="639" width="1" height="7" fill="#c0c0c0"/><rect x="1064" y="638" width="1" height="8" fill="#c0c0c0"/><rect x="1072" y="635" width="1" height="11" fill="#c0c0c0"/><rect x="1080" y="635" width="1" height="11" fill="#c0c0c0"/><rect x="1088" y="640" width="1" height="6" fill="#c0c0c0"/><rect x="1096" y="639" width="1" height="7" fill="#c0c0c0"/><rect x="1104" y="640" width="1" height="6" fill="#c0c0c0"/><rect x="1112" y="641" width="1" height="5" fill="#c0c0c0"/><rect x="1120" y="642" width="1" height="4" fill="#c0c0c0"/><rect x="1128" y="644" width="1" height="2" fill="#c0c0c0"/><rect x="1136" y="644" width="1" height="2" fill="#c0c0c0"/><rect x="1144" y="641" width="1" height="5" fill="#c0c0c0"/><rect x="1152" y="640" width="1" height="6" fill="#c0c0c0"/><rect x="1160" y="642" width="1" height="4" fill="#c0c0c0"/><rect x="1168" y="644" width="1" height="2" fill="#c0c0c0"/><rect x="1176" y="645" width="1" height="2" fill="#c0c0c0"/><rect x="1184" y="645" width="1" height="2" fill="#c0c0c0"/><rect x="1192" y="645" width="1" height="1" fill="#c0c0c0"/><rect x="1200" y="645" width="1" height="2" fill="#c0c0c0"/><rect x="1208" y="645" width="1" height="6" fill="#c0c0c0"/><rect x="1216" y="645" width="1" height="10" fill="#c0c0c0"/><rect x="1224" y="645" width="1" height="16" fill="#c0c0c0"/><rect x="1232" y="645" width="1" height="22" fill="#c0c0c0"/><rect x="1240" y="645" width="1" height="26" fill="#c0c0c0"/><rect x="1248" y="645" width="1" height="26" fill="#c0c0c0"/><rect x="1256" y="645" width="1" height="22" fill="#c0c0c0"/><rect x="1264" y="645" width="1" height="16" fill="#c0c0c0"/><rect x="1272" y="645" width="1" height="15" fill="#c0c0c0"/><rect x="1280" y="645" width="1" height="11" fill="#c0c0c0"/><rect x="1288" y="645" width="1" height="8" fill="#c0c0c0"/><rect x="1296" y="645" width="1" height="6" fill="#c0c0c0"/><rect x="1304" y="645" width="1" height="10" fill="#c0c0c0"/><rect x="1312" y="645" width="1" height="15" fill="#c0c0c0"/><rect x="1320" y="645" width="1" height="21" fill="#c0c0c0"/><rect x="1328" y="645" width="1" height="32" fill="#c0c0c0"/><rect x="1336" y="645" width="1" height="46" fill="#c0c0c0"/><rect x="1344" y="645" width="1" height="63" fill="#c0c0c0"/><rect x="1352" y="645" width="1" height="81" fill="#c0c0c0"/><rect x="1360" y="645" width="1" height="78" fill="#c0c0c0"/><rect x="1368" y="645" width="1" height="78" fill="#c0c0c0"/><rect x="1376" y="645" width="1" height="75" fill="#c0c0c0"/><rect x="1384" y="645" width="1" height="73" fill="#c0c0c0"/><rect x="1392" y="645" width="1" height="71" fill="#c0c0c0"/><rect x="1400" y="645" width="1" height="64" fill="#c0c0c0"/><rect x="1408" y="645" width="1" height="49" fill="#c0c0c0"/></g><polyline points="0.0,666.2 10.0,668.2 25.0,668.2 35.0,665.0 55.0,662.5 75.0,664.2 85.0,667.0 105.0,671.2 120.0,676.2 130.0,677.5 165.0,678.0 185.0,682.5 200.0,690.0 215.0,698.8 230.0,707.5 245.0,716.2 260.0,724.5 275.0,729.5 290.0,732.0 305.0,732.0 320.0,728.8 335.0,721.2 350.0,711.2 365.0,697.5 380.0,685.0 395.0,675.0 410.0,666.2 424.8,659.5 437.5,654.5 450.0,648.8 462.5,643.8 475.0,638.8 487.5,634.5 500.0,633.0 515.0,631.2 530.0,629.0 545.0,628.0 560.0,626.2 575.0,625.0 590.0,622.5 605.0,620.8 620.0,619.0 630.0,616.2 640.0,613.0 650.0,608.8 660.0,604.5 670.0,600.0 680.0,596.2 690.0,594.2 695.0,592.5 712.5,593.0 725.0,596.2 737.5,602.0 750.0,608.0 760.0,611.2 775.0,614.5 790.0,615.5 800.0,613.0 815.0,610.0 830.0,608.8 840.0,607.5 849.8,608.8 865.0,608.2 880.0,605.8 892.5,603.2 905.0,600.0 915.0,597.0 925.0,595.0 942.5,595.8 952.5,601.2 965.0,610.5 977.5,620.0 990.0,630.5 1000.0,638.0 1010.0,643.0 1020.0,647.5 1035.0,649.5 1045.0,648.8 1060.0,646.2 1070.0,644.0 1080.0,641.2 1095.0,639.2 1110.0,638.2 1125.0,638.8 1150.0,640.0 1160.0,641.2 1175.0,642.5 1185.0,643.2 1205.0,643.2 1215.0,646.2 1225.0,648.0 1235.0,651.2 1245.0,656.2 1255.0,658.8 1265.0,661.2 1274.8,662.0 1285.0,663.6 1300.0,662.3 1309.9,659.1 1322.4,658.1 1334.9,661.1 1342.4,666.1 1349.9,672.3 1359.9,682.3 1369.8,692.3 1379.8,701.0 1389.8,709.8 1397.3,713.5 1404.8,715.5" fill="none" stroke="#ff0000" stroke-width="1" shape-rendering="crispEdges" stroke-dasharray="3 3"/></g><path d="M1369 716 L1408 697.5" stroke="#ff0000" stroke-width="3.4" fill="none" shape-rendering="crispEdges"/><path d="M1404 693.5 L1418.5 692.5 L1409.5 702.5 Z" fill="#ff0000"/><text transform="translate(-1,588) scale(0.93,1)" x="0" y="0" font-size="10" fill="#000" font-family="Liberation Sans, sans-serif" text-anchor="start">MACD(12,26,9) -0.4025 -0.5022</text><rect x="1652" y="576" width="3" height="1" fill="#000" shape-rendering="crispEdges"/><rect x="1652" y="645" width="3" height="1" fill="#000" shape-rendering="crispEdges"/><rect x="1652" y="744" width="3" height="1" fill="#000" shape-rendering="crispEdges"/><text x="1655" y="586" font-size="10" fill="#000" font-family="Liberation Sans, sans-serif">0.485</text><text x="1655" y="649" font-size="10" fill="#000" font-family="Liberation Sans, sans-serif">0.00</text><text x="1655" y="742" font-size="10" fill="#000" font-family="Liberation Sans, sans-serif">-0.7071</text><g shape-rendering="crispEdges"><path d="M0 783.5H1651" stroke="#c0c0c0" stroke-dasharray="3 3" stroke-dashoffset="1"/><path d="M0 834.5H1651" stroke="#c0c0c0" stroke-dasharray="3 3" stroke-dashoffset="1"/><path d="M0 895.5H1651" stroke="#c0c0c0" stroke-dasharray="3 3" stroke-dashoffset="1"/></g><g clip-path="url(#crsi)"><polyline points="0.5,840.0 8.5,839.5 16.5,842.5 24.5,841.2 32.5,829.5 40.5,828.0 48.5,850.0 56.5,860.5 64.5,850.0 72.5,852.5 80.5,852.5 88.5,859.2 96.5,840.5 104.5,844.5 112.5,849.0 120.5,850.5 128.5,842.0 136.5,842.0 144.5,851.2 152.5,846.5 160.5,853.0 168.5,862.0 176.5,867.5 184.5,868.2 192.5,872.5 200.5,876.2 208.5,876.5 216.5,869.2 224.5,864.5 232.5,870.5 240.5,878.2 248.5,880.5 256.5,879.2 264.5,864.0 272.5,872.5 280.5,863.2 288.5,867.5 296.5,855.5 304.5,845.0 312.5,848.0 320.5,849.2 328.5,846.2 336.5,833.8 344.5,830.0 352.5,836.2 360.5,829.2 368.5,841.2 376.5,844.5 384.5,836.2 392.5,827.5 400.5,836.2 408.5,830.5 416.5,826.2 424.5,821.2 432.5,821.2 440.5,831.2 448.5,839.2 456.5,833.8 464.5,821.2 472.5,818.2 480.5,827.0 488.5,831.2 496.5,828.2 504.5,828.2 512.5,834.2 520.5,825.5 528.5,832.5 536.5,823.2 544.5,823.2 552.5,820.5 560.5,820.5 568.5,821.2 576.5,823.2 584.5,821.2 592.5,814.5 600.5,824.2 608.5,822.0 616.5,818.0 624.5,807.5 632.5,795.5 640.5,802.0 648.5,800.5 656.5,799.5 664.5,800.8 672.5,819.5 680.5,818.2 688.5,819.2 696.5,819.2 704.5,819.2 712.5,814.5 720.5,843.0 728.5,832.5 736.5,829.2 744.5,829.2 752.5,819.5 760.5,818.2 768.5,817.0 776.5,806.8 784.5,814.2 792.5,813.2 800.5,813.8 808.5,817.5 816.5,809.5 824.5,822.0 832.5,826.2 840.5,822.5 848.5,825.0 856.5,818.0 864.5,803.8 872.5,793.2 880.5,811.2 888.5,814.2 896.5,814.2 904.5,821.2 912.5,814.2 920.5,809.5 928.5,844.2 936.5,831.2 944.5,840.0 952.5,841.2 960.5,851.2 968.5,840.5 976.5,837.0 984.5,837.0 992.5,838.8 1000.5,842.0 1008.5,832.0 1016.5,834.2 1024.5,833.2 1032.5,832.5 1040.5,830.5 1048.5,827.5 1056.5,826.2 1064.5,828.0 1072.5,823.2 1080.5,830.0 1088.5,844.2 1096.5,830.0 1104.5,834.2 1112.5,834.2 1120.5,836.2 1128.5,840.0 1136.5,830.5 1144.5,827.5 1152.5,828.0 1160.5,840.0 1168.5,836.2 1176.5,844.2 1184.5,835.5 1192.5,832.5 1200.5,838.8 1208.5,843.0 1216.5,847.0 1224.5,855.0 1232.5,856.8 1240.5,858.0 1248.5,846.2 1256.5,833.2 1264.5,832.5 1272.5,832.5 1280.5,834.3 1288.5,826.1 1296.5,833.6 1304.5,844.8 1312.5,855.3 1320.5,855.3 1328.5,867.3 1336.5,874.8 1344.5,882.3 1352.5,887.2 1360.5,853.6 1368.5,854.3 1376.5,850.3 1384.5,850.3 1392.5,852.3 1400.5,841.8 1408.5,841.1" fill="none" stroke="#1e90ff" stroke-width="1" shape-rendering="crispEdges" /></g><path d="M1347.5 889.5 L1364 849" stroke="#ff0000" stroke-width="3.2" fill="none" shape-rendering="crispEdges"/><path d="M1357 854 L1364.5 846 L1367 848.5 L1366 858.5 Z" fill="#ff0000"/><path d="M1364 847.5 L1400 845" stroke="#ff0000" stroke-width="3.2" fill="none" shape-rendering="crispEdges"/><path d="M1394.5 840.5 L1407 844.5 L1397 850 Z" fill="#ff0000"/><text transform="translate(-2,760) scale(0.93,1)" x="0" y="0" font-size="10" fill="#000" font-family="Liberation Sans, sans-serif" text-anchor="start">RSI(14) 46.0893</text><rect x="1652" y="748" width="3" height="1" fill="#000" shape-rendering="crispEdges"/><rect x="1652" y="783" width="3" height="1" fill="#000" shape-rendering="crispEdges"/><rect x="1652" y="834" width="3" height="1" fill="#000" shape-rendering="crispEdges"/><rect x="1652" y="895" width="3" height="1" fill="#000" shape-rendering="crispEdges"/><rect x="1652" y="920" width="3" height="1" fill="#000" shape-rendering="crispEdges"/><text x="1655" y="758" font-size="10" fill="#000" font-family="Liberation Sans, sans-serif">100</text><text x="1655" y="787" font-size="10" fill="#000" font-family="Liberation Sans, sans-serif">80</text><text x="1655" y="838" font-size="10" fill="#000" font-family="Liberation Sans, sans-serif">50</text><text x="1655" y="899" font-size="10" fill="#000" font-family="Liberation Sans, sans-serif">15</text><text x="1655" y="918" font-size="10" fill="#000" font-family="Liberation Sans, sans-serif">0</text><g shape-rendering="crispEdges"><rect x="56" y="922" width="1" height="3" fill="#000"/><rect x="120" y="922" width="1" height="3" fill="#000"/><rect x="184" y="922" width="1" height="3" fill="#000"/><rect x="248" y="922" width="1" height="3" fill="#000"/><rect x="312" y="922" width="1" height="3" fill="#000"/><rect x="376" y="922" width="1" height="3" fill="#000"/><rect x="440" y="922" width="1" height="3" fill="#000"/><rect x="504" y="922" width="1" height="3" fill="#000"/><rect x="568" y="922" width="1" height="3" fill="#000"/><rect x="632" y="922" width="1" height="3" fill="#000"/><rect x="696" y="922" width="1" height="3" fill="#000"/><rect x="760" y="922" width="1" height="3" fill="#000"/><rect x="824" y="922" width="1" height="3" fill="#000"/><rect x="888" y="922" width="1" height="3" fill="#000"/><rect x="952" y="922" width="1" height="3" fill="#000"/><rect x="1016" y="922" width="1" height="3" fill="#000"/><rect x="1080" y="922" width="1" height="3" fill="#000"/><rect x="1144" y="922" width="1" height="3" fill="#000"/><rect x="1208" y="922" width="1" height="3" fill="#000"/><rect x="1272" y="922" width="1" height="3" fill="#000"/><rect x="1336" y="922" width="1" height="3" fill="#000"/><rect x="1400" y="922" width="1" height="3" fill="#000"/></g><text transform="translate(41,934) scale(0.93,1)" x="0" y="0" font-size="10" fill="#000" font-family="Liberation Sans, sans-serif" text-anchor="end">17 Jan 2022</text><text transform="translate(56,934) scale(0.93,1)" x="0" y="0" font-size="10" fill="#000" font-family="Liberation Sans, sans-serif" text-anchor="start">18 Jan 12:00</text><text transform="translate(120,934) scale(0.93,1)" x="0" y="0" font-size="10" fill="#000" font-family="Liberation Sans, sans-serif" text-anchor="start">19 Jan 20:00</text><text transform="translate(184,934) scale(0.93,1)" x="0" y="0" font-size="10" fill="#000" font-family="Liberation Sans, sans-serif" text-anchor="start">21 Jan 04:00</text><text transform="translate(248,934) scale(0.93,1)" x="0" y="0" font-size="10" fill="#000" font-family="Liberation Sans, sans-serif" text-anchor="start">24 Jan 12:00</text><text transform="translate(312,934) scale(0.93,1)" x="0" y="0" font-size="10" fill="#000" font-family="Liberation Sans, sans-serif" text-anchor="start">25 Jan 20:00</text><text transform="translate(376,934) scale(0.93,1)" x="0" y="0" font-size="10" fill="#000" font-family="Liberation Sans, sans-serif" text-anchor="start">27 Jan 04:00</text><text transform="translate(440,934) scale(0.93,1)" x="0" y="0" font-size="10" fill="#000" font-family="Liberation Sans, sans-serif" text-anchor="start">28 Jan 12:00</text><text transform="translate(504,934) scale(0.93,1)" x="0" y="0" font-size="10" fill="#000" font-family="Liberation Sans, sans-serif" text-anchor="start">31 Jan 20:00</text><text transform="translate(568,934) scale(0.93,1)" x="0" y="0" font-size="10" fill="#000" font-family="Liberation Sans, sans-serif" text-anchor="start">2 Feb 04:00</text><text transform="translate(632,934) scale(0.93,1)" x="0" y="0" font-size="10" fill="#000" font-family="Liberation Sans, sans-serif" text-anchor="start">3 Feb 12:00</text><text transform="translate(696,934) scale(0.93,1)" x="0" y="0" font-size="10" fill="#000" font-family="Liberation Sans, sans-serif" text-anchor="start">6 Feb 23:00</text><text transform="translate(760,934) scale(0.93,1)" x="0" y="0" font-size="10" fill="#000" font-family="Liberation Sans, sans-serif" text-anchor="start">8 Feb 04:00</text><text transform="translate(824,934) scale(0.93,1)" x="0" y="0" font-size="10" fill="#000" font-family="Liberation Sans, sans-serif" text-anchor="start">9 Feb 12:00</text><text transform="translate(888,934) scale(0.93,1)" x="0" y="0" font-size="10" fill="#000" font-family="Liberation Sans, sans-serif" text-anchor="start">10 Feb 20:00</text><text transform="translate(952,934) scale(0.93,1)" x="0" y="0" font-size="10" fill="#000" font-family="Liberation Sans, sans-serif" text-anchor="start">14 Feb 04:00</text><text transform="translate(1016,934) scale(0.93,1)" x="0" y="0" font-size="10" fill="#000" font-family="Liberation Sans, sans-serif" text-anchor="start">15 Feb 12:00</text><text transform="translate(1080,934) scale(0.93,1)" x="0" y="0" font-size="10" fill="#000" font-family="Liberation Sans, sans-serif" text-anchor="start">16 Feb 20:00</text><text transform="translate(1144,934) scale(0.93,1)" x="0" y="0" font-size="10" fill="#000" font-family="Liberation Sans, sans-serif" text-anchor="start">18 Feb 04:00</text><text transform="translate(1208,934) scale(0.93,1)" x="0" y="0" font-size="10" fill="#000" font-family="Liberation Sans, sans-serif" text-anchor="start">21 Feb 12:00</text><text transform="translate(1272,934) scale(0.93,1)" x="0" y="0" font-size="10" fill="#000" font-family="Liberation Sans, sans-serif" text-anchor="start">22 Feb 20:00</text><text transform="translate(1336,934) scale(0.93,1)" x="0" y="0" font-size="10" fill="#000" font-family="Liberation Sans, sans-serif" text-anchor="start">24 Feb 04:00</text><text transform="translate(1400,934) scale(0.93,1)" x="0" y="0" font-size="10" fill="#000" font-family="Liberation Sans, sans-serif" text-anchor="start">25 Feb 12:00</text><g shape-rendering="crispEdges" fill="none" stroke="#000" stroke-width="1"><path d="M0 20.5H1651.5V573.5H0"/><path d="M0 575.5H1651.5V745.5H0"/><path d="M0 747.5H1651.5V921.5H0"/></g><rect x="1697" y="18" width="1" height="921" fill="#e3e3e3" shape-rendering="crispEdges"/><text x="7" y="32" font-size="10" fill="#000" font-family="Liberation Sans, sans-serif" textLength="53" lengthAdjust="spacingAndGlyphs">GBPJPY-,H4</text><text x="66.5" y="32" font-size="10" fill="#000" font-family="Liberation Sans, sans-serif" textLength="140" lengthAdjust="spacingAndGlyphs">155.040 155.165 154.873 155.007</text><path d="M0 28 L3 32 L0 32 Z" fill="#000"/><defs>
<linearGradient id="gbtn" x1="0" y1="0" x2="0" y2="1"><stop offset="0" stop-color="#5a5aff"/><stop offset="1" stop-color="#2d2de0"/></linearGradient>
<linearGradient id="gpr" x1="0" y1="0" x2="0" y2="1"><stop offset="0" stop-color="#2b2be6"/><stop offset="1" stop-color="#0000b4"/></linearGradient>
<linearGradient id="gspin" x1="0" y1="0" x2="0" y2="1"><stop offset="0" stop-color="#f2f2f2"/><stop offset="0.45" stop-color="#e8e8e8"/><stop offset="0.5" stop-color="#d8d8d8"/><stop offset="1" stop-color="#cfcfcf"/></linearGradient>
</defs><g shape-rendering="crispEdges"><rect x="0" y="40" width="47" height="24" fill="url(#gbtn)"/><rect x="0" y="40" width="47" height="1" fill="#0000a8"/><rect x="46" y="40" width="1" height="24" fill="#0000a8"/><rect x="162" y="40" width="52" height="24" fill="url(#gbtn)"/><rect x="162" y="40" width="52" height="1" fill="#0000a8"/><rect x="162" y="40" width="1" height="24" fill="#0000a8"/><rect x="213" y="40" width="1" height="24" fill="#0000a8"/><rect x="0" y="64" width="104" height="33" fill="url(#gpr)"/><rect x="106" y="64" width="108" height="33" fill="url(#gpr)"/><rect x="0" y="63" width="43" height="1" fill="#0000a0"/><rect x="0" y="64" width="43" height="1" fill="#7b7bff"/><rect x="166" y="63" width="44" height="1" fill="#0000a0"/><rect x="166" y="64" width="44" height="1" fill="#7b7bff"/><rect x="49" y="40" width="111" height="22" fill="#fff"/><rect x="49.5" y="40.5" width="110" height="21" fill="none" stroke="#a9a9a9"/><rect x="50" y="41" width="20" height="20" fill="url(#gspin)"/><rect x="70" y="41" width="1" height="20" fill="#a9a9a9"/><rect x="139" y="41" width="20" height="20" fill="url(#gspin)"/><rect x="138" y="41" width="1" height="20" fill="#a9a9a9"/></g><path d="M57 50 L62 50 L59.5 53 Z" fill="#5060b0"/><path d="M146 52 L151 52 L148.5 49 Z" fill="#5060b0"/><text x="7.5" y="56" font-size="12.5" fill="#fff" font-family="Liberation Sans, sans-serif" textLength="25.5" lengthAdjust="spacingAndGlyphs">SELL</text><text x="176" y="56" font-size="12.5" fill="#fff" font-family="Liberation Sans, sans-serif" textLength="23" lengthAdjust="spacingAndGlyphs">BUY</text><text x="135" y="55" font-size="12.5" fill="#000" font-family="Liberation Sans, sans-serif" text-anchor="end">1.00</text><text x="18.5" y="92" font-size="12.5" font-weight="bold" fill="#fff" font-family="Liberation Sans, sans-serif" textLength="20.5" lengthAdjust="spacingAndGlyphs">155</text><text x="43" y="92" font-size="33.5" fill="#fff" font-family="Liberation Sans, sans-serif" textLength="35" lengthAdjust="spacingAndGlyphs">00</text><text x="82" y="76" font-size="12.5" font-weight="bold" fill="#fff" font-family="Liberation Sans, sans-serif">7</text><text x="128.5" y="92" font-size="12.5" font-weight="bold" fill="#fff" font-family="Liberation Sans, sans-serif" textLength="20.5" lengthAdjust="spacingAndGlyphs">155</text><text x="153.5" y="92" font-size="33.5" fill="#fff" font-family="Liberation Sans, sans-serif" textLength="35" lengthAdjust="spacingAndGlyphs">04</text><text x="193" y="76" font-size="12.5" font-weight="bold" fill="#fff" font-family="Liberation Sans, sans-serif">6</text><rect x="0" y="0" width="1699" height="16" fill="#f0f0f0" shape-rendering="crispEdges"/><rect x="0" y="16" width="1697" height="1" fill="#858585" shape-rendering="crispEdges"/><rect x="0" y="17" width="1697" height="1" fill="#a8a8a8" shape-rendering="crispEdges"/><rect x="12" y="0" width="1" height="14" fill="#a0a0a0" shape-rendering="crispEdges"/><rect x="302" y="0" width="1" height="14" fill="#a0a0a0" shape-rendering="crispEdges"/><rect x="396" y="0" width="1" height="14" fill="#a0a0a0" shape-rendering="crispEdges"/><rect x="486" y="0" width="1" height="14" fill="#a0a0a0" shape-rendering="crispEdges"/><rect x="548" y="0" width="1" height="14" fill="#a0a0a0" shape-rendering="crispEdges"/><rect x="669" y="0" width="1" height="14" fill="#a0a0a0" shape-rendering="crispEdges"/><rect x="737" y="0" width="1" height="14" fill="#a0a0a0" shape-rendering="crispEdges"/><rect x="976" y="0" width="1" height="14" fill="#a0a0a0" shape-rendering="crispEdges"/><rect x="1236" y="0" width="1" height="14" fill="#a0a0a0" shape-rendering="crispEdges"/><rect x="305" y="1" width="3" height="1" fill="#b8b8b8" shape-rendering="crispEdges"/><rect x="305" y="3" width="3" height="1" fill="#b8b8b8" shape-rendering="crispEdges"/><rect x="305" y="5" width="3" height="1" fill="#b8b8b8" shape-rendering="crispEdges"/><rect x="305" y="7" width="3" height="1" fill="#b8b8b8" shape-rendering="crispEdges"/><rect x="305" y="9" width="3" height="1" fill="#b8b8b8" shape-rendering="crispEdges"/><rect x="305" y="11" width="3" height="1" fill="#b8b8b8" shape-rendering="crispEdges"/><rect x="305" y="13" width="3" height="1" fill="#b8b8b8" shape-rendering="crispEdges"/><rect x="674" y="1" width="3" height="1" fill="#b8b8b8" shape-rendering="crispEdges"/><rect x="674" y="3" width="3" height="1" fill="#b8b8b8" shape-rendering="crispEdges"/><rect x="674" y="5" width="3" height="1" fill="#b8b8b8" shape-rendering="crispEdges"/><rect x="674" y="7" width="3" height="1" fill="#b8b8b8" shape-rendering="crispEdges"/><rect x="674" y="9" width="3" height="1" fill="#b8b8b8" shape-rendering="crispEdges"/><rect x="674" y="11" width="3" height="1" fill="#b8b8b8" shape-rendering="crispEdges"/><rect x="674" y="13" width="3" height="1" fill="#b8b8b8" shape-rendering="crispEdges"/><rect x="980" y="1" width="3" height="1" fill="#b8b8b8" shape-rendering="crispEdges"/><rect x="980" y="3" width="3" height="1" fill="#b8b8b8" shape-rendering="crispEdges"/><rect x="980" y="5" width="3" height="1" fill="#b8b8b8" shape-rendering="crispEdges"/><rect x="980" y="7" width="3" height="1" fill="#b8b8b8" shape-rendering="crispEdges"/><rect x="980" y="9" width="3" height="1" fill="#b8b8b8" shape-rendering="crispEdges"/><rect x="980" y="11" width="3" height="1" fill="#b8b8b8" shape-rendering="crispEdges"/><rect x="980" y="13" width="3" height="1" fill="#b8b8b8" shape-rendering="crispEdges"/><path d="M0 5 L4 10" stroke="#c89a20" stroke-width="2"/><rect x="22.5" y="-3.5" width="11" height="13" fill="#fff" stroke="#8a8a8a"/><path d="M24 3H31M24 5H31" stroke="#9a9a9a"/><path d="M31.5 3 V13 M26.5 8 H36.5" stroke="#10b010" stroke-width="3"/><text x="41" y="7" font-size="13" fill="#000" font-family="Liberation Sans, sans-serif" textLength="64.5" lengthAdjust="spacingAndGlyphs">New Order</text><path d="M118.5 5 L124 -1 L133.5 5.5 L127 11.5 Z" fill="#e6bc2c" stroke="#a87818" stroke-width="1"/><path d="M127 11.5 L133.5 5.5 L134 7 L127.5 12.5 Z" fill="#b88420"/><rect x="148" y="-2" width="11" height="7" fill="#2a8ae8"/><rect x="152" y="0" width="5" height="3" fill="#e0f0ff"/><path d="M147 11 Q145.5 8 149 7.5 Q150 4.5 154 5 Q156 3.5 158.5 6 Q162 6.5 161.5 9.5 Q162 11.5 159 11.5 L148.5 11.5 Q147 11.5 147 11 Z" fill="#eef2f8" stroke="#7088b0" stroke-width="1"/><path d="M176 -2 A7.5 7.5 0 0 0 178 9" fill="none" stroke="#8aa8e0" stroke-width="1"/><path d="M179 0 A4 4 0 0 0 180 6" fill="none" stroke="#5a80d0" stroke-width="1"/><path d="M185 0 A4 4 0 0 1 184 6" fill="none" stroke="#70b070" stroke-width="1"/><path d="M188.5 -2 A7.5 7.5 0 0 1 185 10.5" fill="none" stroke="#80c080" stroke-width="1.2"/><circle cx="182.2" cy="3.4" r="1.6" fill="#3060c0"/><path d="M182.5 4 V11.5" stroke="#20a020" stroke-width="1.3"/><path d="M202 0 L216 0 L214 10 L205 10 Z" fill="#e0c030"/><ellipse cx="209" cy="1" rx="7" ry="3" fill="#60a0d0"/><circle cx="213.5" cy="8" r="4" fill="#e02020"/><rect x="212" y="6.5" width="3" height="3" fill="#fff"/><text x="222" y="7" font-size="13" fill="#000" font-family="Liberation Sans, sans-serif" textLength="71" lengthAdjust="spacingAndGlyphs">AutoTrading</text><path d="M320 -2 V11 M317 10.5 H331" stroke="#404040" stroke-width="1" shape-rendering="crispEdges"/><path d="M321 8 H324 V2 H327" stroke="#10a010" stroke-width="1.5" fill="none"/><rect x="340" y="0" width="25" height="15" fill="#e6e6e6" shape-rendering="crispEdges"/><path d="M348 -2 V11 M345 10.5 H359" stroke="#404040" stroke-width="1" shape-rendering="crispEdges"/><rect x="351" y="-2" width="4" height="8" fill="#10c010"/><path d="M353 6V9" stroke="#10a010"/><path d="M376 -2 V11 M373 10.5 H387" stroke="#404040" stroke-width="1" shape-rendering="crispEdges"/><path d="M377 7 Q381 -2 386 4" stroke="#10a010" stroke-width="1.2" fill="none"/><path d="M412 5 L418 11" stroke="#c89a20" stroke-width="2.5"/><circle cx="409" cy="2" r="5" fill="#cfe4fb" stroke="#3a78d8" stroke-width="1.5"/><path d="M406 2 H412" stroke="#2050b0" stroke-width="1.5"/><path d="M409 -1 V5" stroke="#2050b0" stroke-width="1.5"/><path d="M440 5 L446 11" stroke="#c89a20" stroke-width="2.5"/><circle cx="437" cy="2" r="5" fill="#cfe4fb" stroke="#3a78d8" stroke-width="1.5"/><path d="M434 2 H440" stroke="#2050b0" stroke-width="1.5"/><rect x="461" y="-2" width="7" height="5" fill="#30a030"/><rect x="469" y="-2" width="7" height="5" fill="#3070d0"/><rect x="461" y="4" width="7" height="6" fill="#3070d0"/><rect x="469" y="4" width="7" height="6" fill="#30a030"/><path d="M462.5 1.5H466.5M470.5 1.5H474.5M462.5 6.5H466.5M470.5 6.5H474.5M462.5 8.5H466.5M470.5 8.5H474.5" stroke="#e8f0ff" stroke-width="1" shape-rendering="crispEdges"/><rect x="491" y="0" width="25" height="15" fill="#e6e6e6" shape-rendering="crispEdges"/><rect x="519" y="0" width="25" height="15" fill="#e6e6e6" shape-rendering="crispEdges"/><path d="M500 -2 V11 M497 10.5 H511" stroke="#404040" stroke-width="1" shape-rendering="crispEdges"/><path d="M505 0 L509 3 L505 6 Z" fill="#10b010"/><path d="M528 -2 V11 M525 10.5 H539" stroke="#404040" stroke-width="1" shape-rendering="crispEdges"/><path d="M530 -2 V9" stroke="#2060c0"/><path d="M533 3 H538 M533 3 L535 1 M533 3 L535 5" stroke="#e04010"/><rect x="558.5" y="-2.5" width="9" height="11" fill="#fff" stroke="#707070"/><path d="M567 4 V14 M562 9 H572" stroke="#10b010" stroke-width="3"/><path d="M580 2 H585 L582.5 5 Z" fill="#000"/><circle cx="604" cy="2" r="7" fill="#dfefff" stroke="#1a5fc8" stroke-width="2"/><path d="M604 -1 V3 H607" stroke="#333" stroke-width="1"/><path d="M619 2 H624 L621.5 5 Z" fill="#000"/><rect x="635.5" y="-2.5" width="15" height="13" fill="#fff" stroke="#3a6ab0"/><path d="M637 2 L641 0 L645 1 L649 -1" stroke="#c03020" fill="none"/><path d="M637 7 L641 5 L645 6 L649 4" stroke="#20a020" fill="none"/><path d="M658 2 H663 L660.5 5 Z" fill="#000"/><rect x="679" y="0" width="25" height="15" fill="#e6e6e6" shape-rendering="crispEdges"/><path d="M687 -2 L687 9 L690 6 L693 11 L695 10 L692 5 L696 5 Z" fill="#404040"/><path d="M719.5 -2 V12 M712 4.5 H727" stroke="#505050" shape-rendering="crispEdges"/><path d="M753.5 -2 V10" stroke="#505050" shape-rendering="crispEdges"/><path d="M776 4.5 H788" stroke="#505050" shape-rendering="crispEdges"/><path d="M803 11 L815 0" stroke="#505050"/><path d="M830 9 L840 -1 M833 10 L843 0 M831 4 L845 4" stroke="#505050"/><text x="841" y="13" font-size="6" font-weight="bold" fill="#404040" font-family="Liberation Sans, sans-serif">E</text><path d="M859 0.5 H871 M859 4.5 H871 M859 8.5 H868" stroke="#505050" stroke-dasharray="1 1"/><text x="868" y="13" font-size="6" font-weight="bold" fill="#404040" font-family="Liberation Sans, sans-serif">F</text><text x="889.5" y="9" font-size="11" fill="#606060" font-family="Liberation Sans, sans-serif">A</text><rect x="916.5" y="-1.5" width="11" height="11" fill="none" stroke="#606060" stroke-dasharray="1 1"/><text x="918" y="8.5" font-size="10" font-weight="bold" fill="#404040" font-family="Liberation Sans, sans-serif">T</text><path d="M944 1 L948 5 L951 0" stroke="#404040" stroke-width="2" fill="none"/><path d="M952 4 L956 8 L952 12 L948 8 Z" fill="#404040"/><path d="M945 6 L949 9" stroke="#404040" stroke-width="1.5"/><path d="M964 2 H969 L966.5 5 Z" fill="#000"/><rect x="1126" y="0" width="24" height="15" fill="#e6e6e6" shape-rendering="crispEdges"/><rect x="1125" y="0" width="1" height="14" fill="#a0a0a0" shape-rendering="crispEdges"/><text transform="translate(990.5,8.5) scale(1.12,1)" x="0" y="0" font-size="10" fill="#333" font-family="Liberation Sans, sans-serif">M1</text><text transform="translate(1018.5,8.5) scale(1.12,1)" x="0" y="0" font-size="10" fill="#333" font-family="Liberation Sans, sans-serif">M5</text><text transform="translate(1044,8.5) scale(1.12,1)" x="0" y="0" font-size="10" fill="#333" font-family="Liberation Sans, sans-serif">M15</text><text transform="translate(1072,8.5) scale(1.12,1)" x="0" y="0" font-size="10" fill="#333" font-family="Liberation Sans, sans-serif">M30</text><text transform="translate(1103,8.5) scale(1.12,1)" x="0" y="0" font-size="10" fill="#333" font-family="Liberation Sans, sans-serif">H1</text><text transform="translate(1130,8.5) scale(1.12,1)" x="0" y="0" font-size="10" fill="#333" font-family="Liberation Sans, sans-serif">H4</text><text transform="translate(1159,8.5) scale(1.12,1)" x="0" y="0" font-size="10" fill="#333" font-family="Liberation Sans, sans-serif">D1</text><text transform="translate(1186,8.5) scale(1.12,1)" x="0" y="0" font-size="10" fill="#333" font-family="Liberation Sans, sans-serif">W1</text><text transform="translate(1213,8.5) scale(1.12,1)" x="0" y="0" font-size="10" fill="#333" font-family="Liberation Sans, sans-serif">MN</text><circle cx="1654" cy="2" r="4" fill="#fff" stroke="#2a64d0" stroke-width="1.5"/><path d="M1651 5 L1646 10" stroke="#2a64d0" stroke-width="2.5"/><ellipse cx="1677" cy="7" rx="7" ry="5" fill="#e8e8f0" stroke="#b0b0b0"/><path d="M1674 11 L1673 14 L1678 11 Z" fill="#b0b0b0"/><circle cx="1684.5" cy="2.5" r="8.5" fill="#e02a10"/><text x="1684.5" y="6" font-size="11" fill="#fff" text-anchor="middle" font-family="Liberation Serif, serif">1</text><path d="M21.5 20.5 L23.5 18.2 L25.5 20.5" stroke="#000" fill="none"/><path d="M1412 21 L1421 21 L1416.5 25 Z" fill="#a0a0a0"/></svg></body></html>
